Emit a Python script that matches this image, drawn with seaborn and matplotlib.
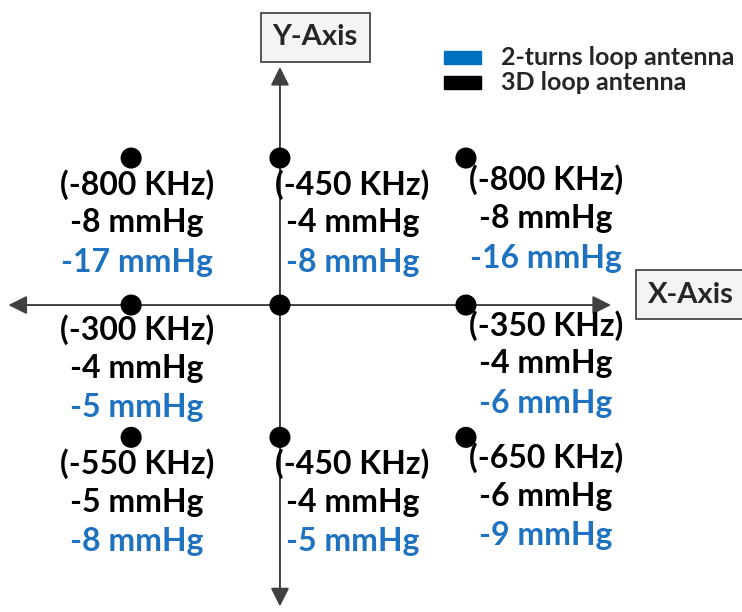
import pandas as pd
import matplotlib.pyplot as plt
import seaborn as sns

# grid positions of the nine measurement points (diagram units)
x_pos = [-0.8, 0, 1, -0.8, 0, 1, -0.8, 0, 1]
y_pos = [1, 1, 1, 0, 0, 0, -0.9, -0.9, -0.9]
freq_shift = ["(-800 KHz)", "(-450 KHz)", "(-800 KHz)",
              "(-300 KHz)", "", "(-350 KHz)",
              "(-550 KHz)", "(-450 KHz)", "(-650 KHz)"]
p_3d = ["-8 mmHg", "-4 mmHg", "-8 mmHg",
        "-4 mmHg", "", "-4 mmHg",
        "-5 mmHg", "-4 mmHg", "-6 mmHg"]
p_2turn = ["-17 mmHg", "-8 mmHg", "-16 mmHg",
           "-5 mmHg", "", "-6 mmHg",
           "-8 mmHg", "-5 mmHg", "-9 mmHg"]
legend_labels = ["2-turns loop antenna", "3D loop antenna"]

df = pd.DataFrame({"x": x_pos, "y": y_pos, "freq": freq_shift,
                   "p3d": p_3d, "p2": p_2turn})

BLUE = "#1f72c0"
sns.set_style("white")
plt.rcParams["font.family"] = ["Lato", "DejaVu Sans"]

fig = plt.figure(figsize=(7.42, 6.12), dpi=100)
ax = fig.add_axes([0, 0, 1, 1])
ax.set_xlim(-1.505, 2.484)
ax.set_ylim(-2.088, 2.075)
ax.axis("off")

# axes arrows
arrow = dict(arrowstyle="-|>", color="#404040", lw=1.4, mutation_scale=28,
             shrinkA=0, shrinkB=0)
ax.annotate("", xy=(-1.46, 0), xytext=(0, 0), arrowprops=arrow)
ax.annotate("", xy=(1.78, 0), xytext=(0, 0), arrowprops=arrow)
ax.annotate("", xy=(0, 1.62), xytext=(0, 0), arrowprops=arrow)
ax.annotate("", xy=(0, -2.05), xytext=(0, 0), arrowprops=arrow)

sns.scatterplot(data=df, x="x", y="y", color="black", s=230,
                edgecolor="none", ax=ax, zorder=5)
ax.set_xlim(-1.505, 2.484)
ax.set_ylim(-2.088, 2.075)

# label offsets per column (x) and row (y) of the text block
dx = {-0.8: 0.03, 0: 0.39, 1: 0.43}
dy = {1: -0.18, 0: -0.17, -0.9: -0.18}
for _, r in df.iterrows():
    if r["freq"] == "":
        continue
    tx = r["x"] + dx[r["x"]]
    ty = r["y"] + dy[r["y"]]
    if r["x"] == 1 and r["y"] == 1:
        ty = r["y"] - 0.15
    if r["x"] == 1 and r["y"] == 0:
        ty = r["y"] - 0.14
    if r["x"] == 1 and r["y"] == -0.9:
        ty = r["y"] - 0.14
    kw = dict(ha="center", va="center", fontsize=23, fontweight="bold")
    ax.text(tx, ty, r["freq"], color="black", **kw)
    ax.text(tx, ty - 0.26, r["p3d"], color="black", **kw)
    ax.text(tx, ty - 0.53, r["p2"], color=BLUE, **kw)

# axis name boxes
box = dict(boxstyle="square,pad=0.4", fc="#f4f4f4", ec="#555555", lw=1.4)
ax.text(0.19, 1.82, "Y-Axis", ha="center", va="center", fontsize=21,
        fontweight="bold", bbox=box)
ax.text(2.21, 0.07, "X-Axis", ha="center", va="center", fontsize=21,
        fontweight="bold", bbox=box)

# legend
ax.add_patch(plt.Rectangle((0.88, 1.64), 0.2, 0.088, color="#0070c0"))
ax.add_patch(plt.Rectangle((0.88, 1.47), 0.2, 0.088, color="black"))
ax.text(1.19, 1.685, legend_labels[0], va="center", fontsize=18, fontweight="bold")
ax.text(1.19, 1.515, legend_labels[1], va="center", fontsize=18, fontweight="bold")

fig.savefig("out.png", dpi=100)
